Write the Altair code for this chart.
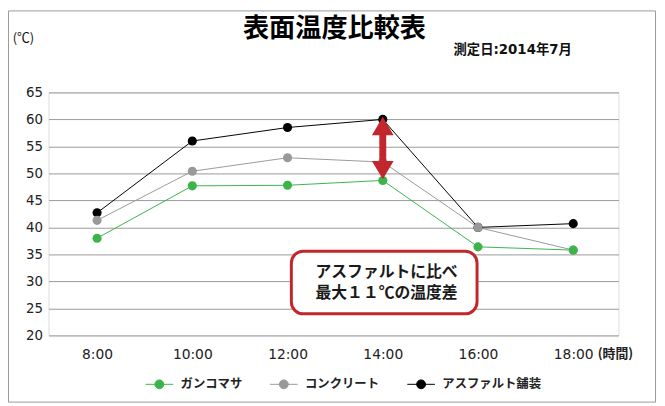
import altair as alt
import pandas as pd

# ---- data ----
times = [8, 10, 12, 14, 16, 18]
series_names = ["ガンコマサ", "コンクリート", "アスファルト舗装"]
series_colors = ["#3cb44a", "#999999", "#000000"]
ganko = [38.0, 47.7, 47.8, 48.7, 36.4, 35.8]
concrete = [41.3, 50.4, 52.9, 52.1, 40.0, 35.8]
asphalt = [42.7, 56.0, 58.5, 60.0, 40.0, 40.7]
y_ticks = [20, 25, 30, 35, 40, 45, 50, 55, 60, 65]

title_text = "表面温度比較表"
date_text = "測定日:2014年7月"
unit_text = "(℃)"
time_unit_text = "(時間)"
note_lines = ["アスファルトに比べ", "最大１１℃の温度差"]
note_x = [14.08, 14.08]
note_y = [31.8, 27.9]
box_x = [12.08, 15.98]
box_y = [35.6, 24.0]
arrow_x = [14]
arrow_top = [60.5]
arrow_bottom = [48.9]

JP = "Noto Sans CJK JP"
NUM = "DejaVu Sans"

rows = []
for name, vals in [("アスファルト舗装", asphalt), ("コンクリート", concrete), ("ガンコマサ", ganko)]:
    for t, v in zip(times, vals):
        rows.append({"time": t, "temp": v, "series": name})
df = pd.DataFrame(rows)

x_scale = alt.Scale(domain=[6.98, 18.95], nice=False, zero=False)
y_scale = alt.Scale(domain=[20, 65], nice=False, zero=False)
color_scale = alt.Scale(domain=series_names, range=series_colors)

legend = alt.Legend(
    title=None, orient="none", legendX=97.7, legendY=281, direction="horizontal",
    symbolType="M-1,0H1M-0.32,0A0.32,0.32 0 1,1 0.32,0A0.32,0.32 0 1,1 -0.32,0Z",
    symbolSize=784, symbolStrokeWidth=1, labelFont=JP, labelFontSize=12.5,
    labelFontWeight="bold", labelColor="#222222", labelOffset=7, columnPadding=25, padding=0,
)

x_axis = alt.Axis(values=times, labelExpr="datum.value + ':00'", grid=False, domain=False,
                  ticks=False, labelPadding=19, labelBaseline="middle", labelFont=NUM,
                  labelFontSize=14, labelColor="#222222", title=None)
y_axis = alt.Axis(values=y_ticks, grid=True, gridColor="#999999", gridWidth=1, domain=False,
                  ticks=False, labelPadding=6, labelFont=NUM, labelFontSize=13.5,
                  labelColor="#222222", labelOverlap=False, title=None)


def X(field):
    return alt.X(field, scale=x_scale, axis=x_axis)


def Y(field):
    return alt.Y(field, scale=y_scale, axis=y_axis)


base = alt.Chart(df)
lines = base.mark_line(strokeWidth=1).encode(
    x=X("time:Q"), y=Y("temp:Q"),
    color=alt.Color("series:N", scale=color_scale, legend=legend),
)
points = base.mark_point(filled=True, size=85, opacity=1).encode(
    x=X("time:Q"), y=Y("temp:Q"),
    color=alt.Color("series:N", scale=color_scale, legend=legend),
)

RED = "#c1272d"
arrow_df = pd.DataFrame({"x": arrow_x, "top": arrow_top, "bottom": arrow_bottom})
shaft = alt.Chart(arrow_df).transform_calculate(
    y1="datum.top - 3", y2="datum.bottom + 3"
).mark_rule(color=RED, strokeWidth=7, strokeCap="butt").encode(
    x=X("x:Q"), y=Y("y1:Q"), y2="y2:Q"
)
head_up = alt.Chart(arrow_df).mark_point(
    shape="M0,0L1,1.7L-1,1.7Z", size=484, filled=True, color=RED, opacity=1
).encode(x=X("x:Q"), y=Y("top:Q"))
head_down = alt.Chart(arrow_df).mark_point(
    shape="M0,0L1,-1.7L-1,-1.7Z", size=484, filled=True, color=RED, opacity=1
).encode(x=X("x:Q"), y=Y("bottom:Q"))

box_df = pd.DataFrame({"x1": [box_x[0]], "x2": [box_x[1]], "y1": [box_y[0]], "y2": [box_y[1]]})
box = alt.Chart(box_df).mark_rect(
    fill="white", stroke=RED, strokeWidth=3, cornerRadius=12
).encode(x=X("x1:Q"), x2="x2:Q", y=Y("y1:Q"), y2="y2:Q")

note_df = pd.DataFrame({"x": note_x, "y": note_y, "t": note_lines})
note = alt.Chart(note_df).mark_text(
    font=JP, fontSize=16, fontWeight="bold", color="#1a1a1a", baseline="middle", align="center"
).encode(x=X("x:Q"), y=Y("y:Q"), text="t:N")

one = alt.Data(values=[{}])
title_mark = alt.Chart(one).mark_text(
    text=title_text, font=JP, fontSize=26.5, fontWeight="bold", color="#000000",
    align="center", baseline="middle"
).encode(x=alt.value(289.5), y=alt.value(-64.5))
date_mark = alt.Chart(one).mark_text(
    text=date_text, font=NUM + ", " + JP, fontSize=13.5, fontWeight="bold", color="#111111",
    align="left", baseline="middle"
).encode(x=alt.value(410), y=alt.value(-43))
unit_mark = alt.Chart(one).mark_text(
    text=unit_text, font=JP, fontSize=13, color="#111111", align="left", baseline="middle"
).encode(x=alt.value(-36.3), y=alt.value(-55))
time_unit_mark = alt.Chart(one).mark_text(
    text=time_unit_text, font=JP, fontSize=13, fontWeight="bold", color="#222222",
    align="left", baseline="middle"
).encode(x=alt.value(556), y=alt.value(265))
frame = alt.Chart(one).mark_rect(fill="transparent", stroke="#999999", strokeWidth=1).encode(
    x=alt.value(-40.5), x2=alt.value(614.5), y=alt.value(-82.5), y2=alt.value(313.5)
)

chart = alt.layer(
    frame, lines, points, shaft, head_up, head_down, box, note,
    title_mark, date_mark, unit_mark, time_unit_mark,
).properties(
    width=577, height=246,
    autosize=alt.AutoSizeParams(type="none"),
    padding={"left": 41, "top": 83, "right": 39, "bottom": 69},
).configure_view(stroke=None).configure(background="white")

chart.save("out.html", embed_options={"renderer": "svg", "actions": False})
